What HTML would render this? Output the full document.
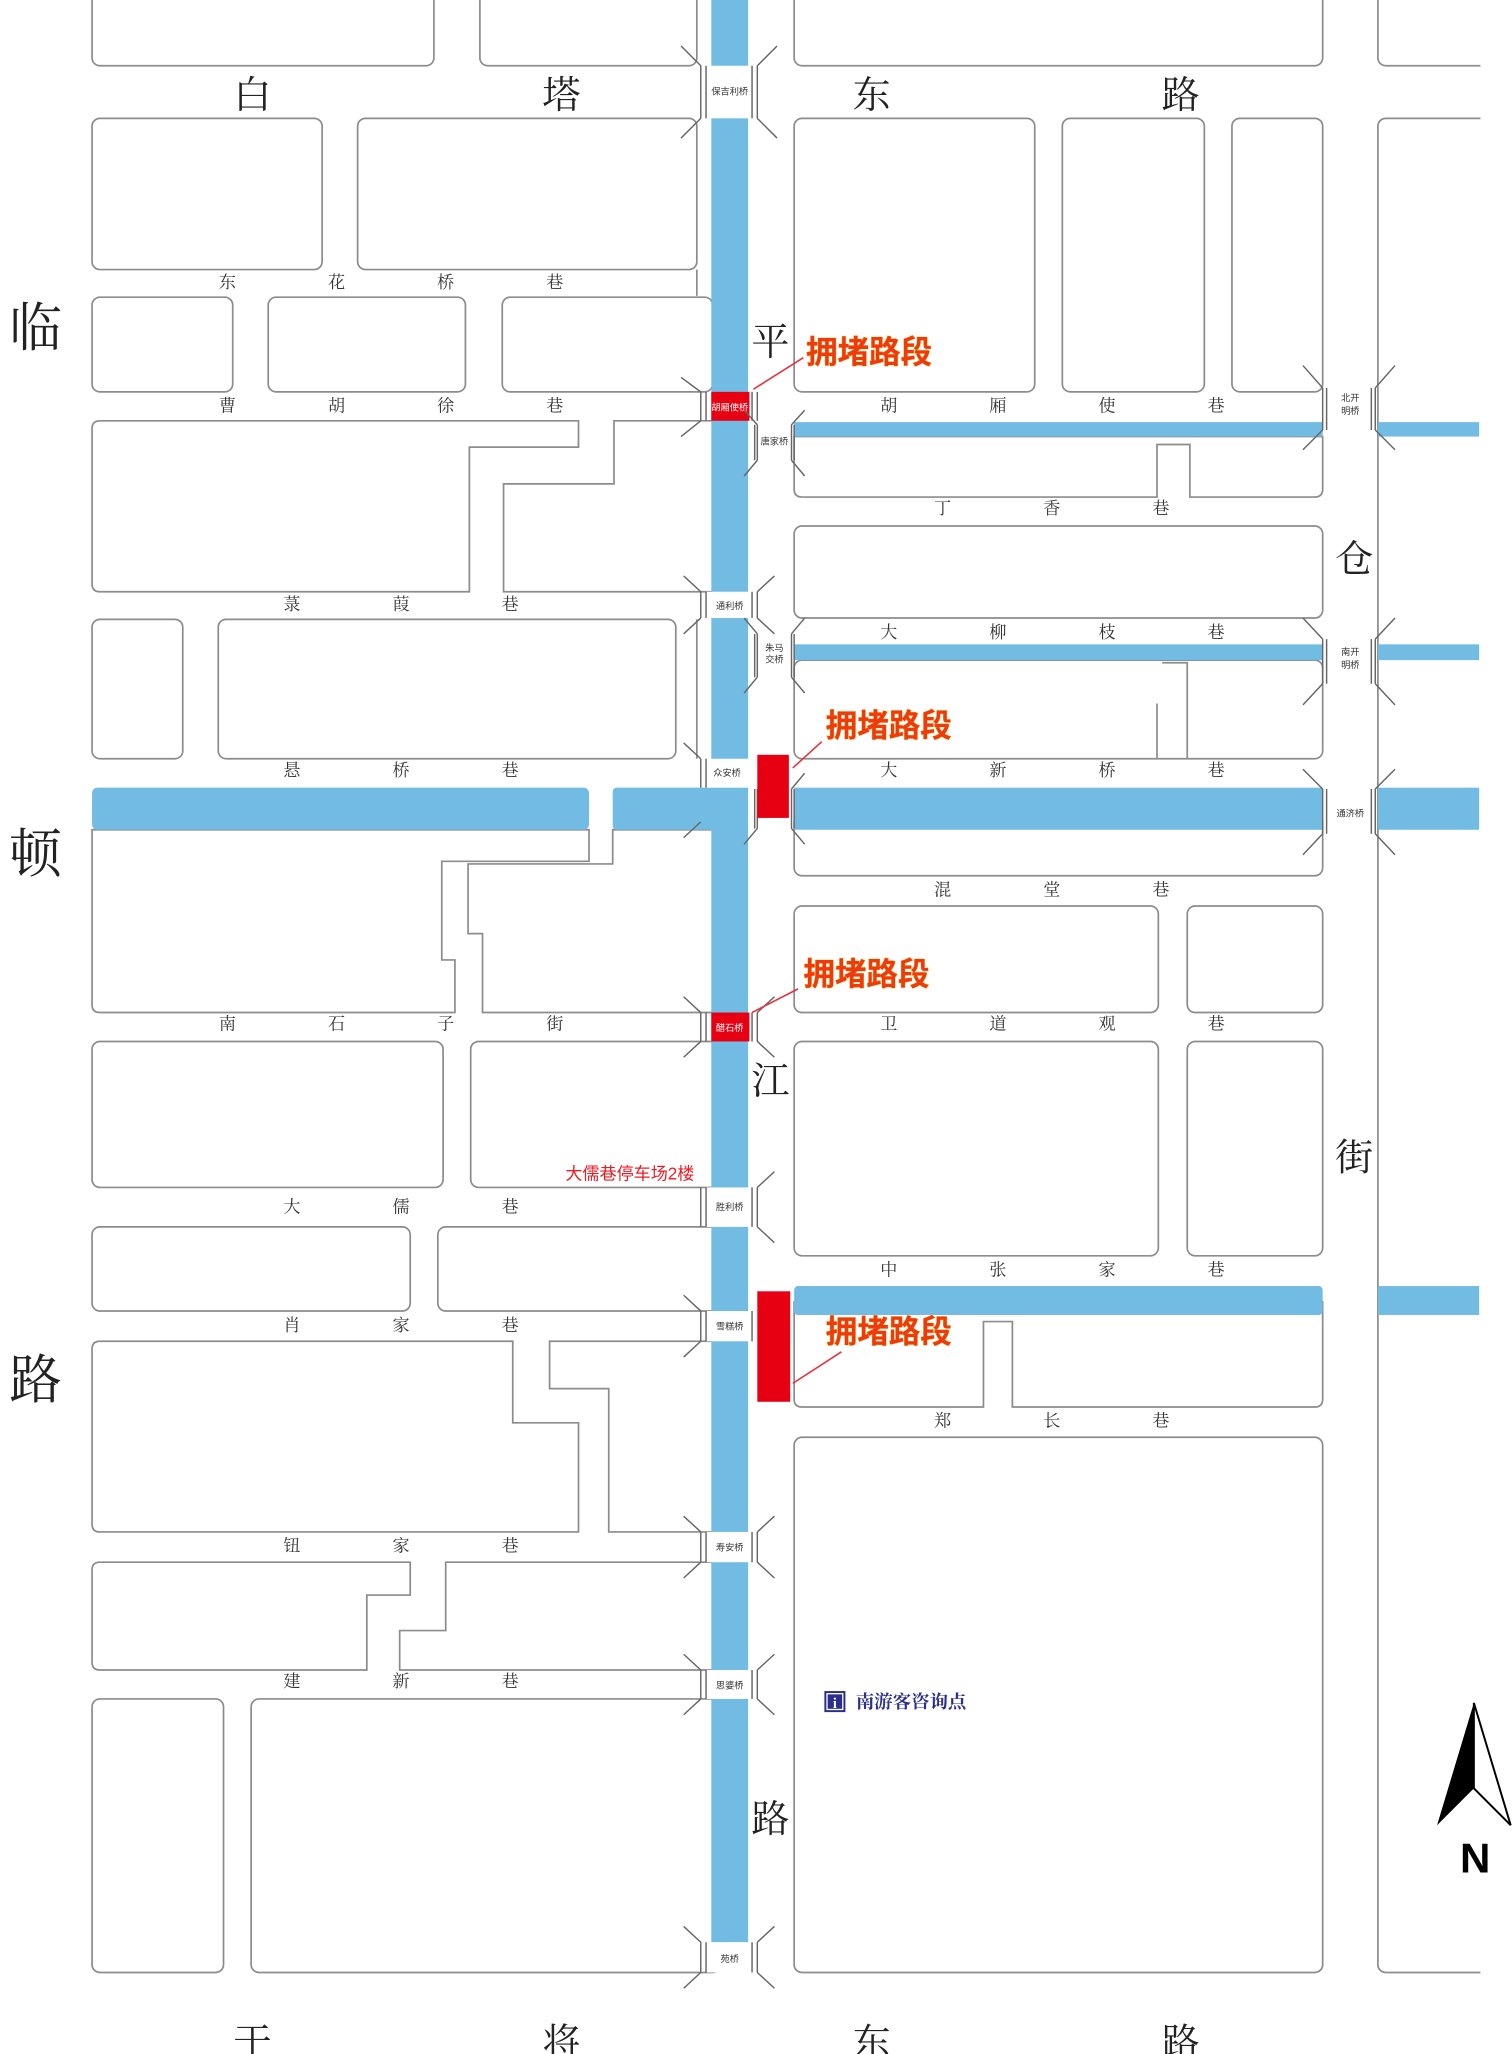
<!DOCTYPE html>
<html><head><meta charset="utf-8"><style>
html,body{margin:0;padding:0;background:#fff}
svg{display:block}
text{font-family:"Liberation Serif","Noto Serif CJK SC","Noto Sans CJK SC",serif}
.b{fill:#fff;stroke:#8c8c8c;stroke-width:1.3}
.l{fill:none;stroke:#8c8c8c;stroke-width:1.3}
.c{fill:#72bce4}
.br{fill:none;stroke:#666;stroke-width:1.1}
.big{font-size:29px;fill:#222;text-anchor:middle}
.hg{font-size:40px;fill:#222;text-anchor:middle}
.ln{font-size:13px;fill:#333;text-anchor:middle}
.bt{font-size:7px;fill:#333;text-anchor:middle;font-family:"Liberation Sans","Noto Sans CJK SC",sans-serif}
.jam{font-size:24px;font-weight:bold;fill:#ee3a0c;stroke:#f6d35a;stroke-width:0.6;paint-order:stroke;font-family:"Liberation Sans","Noto Sans CJK SC",sans-serif}
</style></head><body>
<svg width="1512" height="2054" viewBox="0 0 1150 1562" preserveAspectRatio="none" xmlns="http://www.w3.org/2000/svg">
<rect class="b" x="70" y="-10" width="260" height="60" rx="6"/>
<rect class="b" x="365" y="-10" width="165" height="60" rx="6"/>
<rect class="b" x="604" y="-10" width="402" height="60" rx="6"/>
<rect class="b" x="1048" y="-10" width="120" height="60" rx="6"/>
<rect class="b" x="70" y="90" width="175" height="115" rx="6"/>
<rect class="b" x="272" y="90" width="258" height="115" rx="6"/>
<path class="l" d="M530,205 V225"/>
<rect class="b" x="604" y="90" width="183" height="208" rx="6"/>
<rect class="b" x="808" y="90" width="108" height="208" rx="6"/>
<rect class="b" x="937" y="90" width="69" height="208" rx="6"/>
<rect class="b" x="1048" y="90" width="120" height="1410" rx="6"/>
<rect class="b" x="70" y="226" width="107" height="72" rx="6"/>
<rect class="b" x="204" y="226" width="150" height="72" rx="6"/>
<rect class="b" x="382" y="226" width="160" height="72" rx="6"/>
<path class="b" d="M76,320 H440 V340 H357 V450 H76 Q70,450 70,444 V326 Q70,320 76,320 Z"/>
<path class="b" d="M467,320 H545 V450 H383 V368 H467 Z"/>
<path class="b" d="M604,332 H1006 V372 Q1006,378 1000,378 H905 V338 H880 V378 H610 Q604,378 604,372 Z"/>
<rect class="b" x="604" y="400" width="402" height="70" rx="6"/>
<rect class="b" x="604" y="502" width="402" height="75" rx="6"/>
<path class="l" d="M880,535 V577 M884,504 H903 V577"/>
<rect class="b" x="70" y="471" width="69" height="106" rx="6"/>
<rect class="b" x="166" y="471" width="348" height="106" rx="6"/>
<path class="l" d="M530,471 V577"/>
<path class="b" d="M70,631 H448 V655 H336 V730 H346 V770 H76 Q70,770 70,764 Z"/>
<path class="b" d="M466,631 H545 V770 H367 V710 H356 V657 H466 Z"/>
<rect class="b" x="604" y="620" width="402" height="46" rx="6"/>
<rect class="b" x="604" y="689" width="277" height="81" rx="6"/>
<rect class="b" x="903" y="689" width="103" height="81" rx="6"/>
<rect class="b" x="70" y="792" width="267" height="111" rx="6"/>
<rect class="b" x="358" y="792" width="190" height="111" rx="6"/>
<rect class="b" x="604" y="792" width="277" height="163" rx="6"/>
<rect class="b" x="903" y="792" width="103" height="163" rx="6"/>
<rect class="b" x="70" y="933" width="242" height="64" rx="6"/>
<rect class="b" x="333" y="933" width="215" height="64" rx="6"/>
<path class="b" d="M604,990 H1006 V1064 Q1006,1070 1000,1070 H770 V1005 H748 V1070 H610 Q604,1070 604,1064 Z"/>
<path class="b" d="M76,1020 H390 V1082 H440 V1165 H76 Q70,1165 70,1159 V1026 Q70,1020 76,1020 Z"/>
<path class="b" d="M418,1020 H548 V1165 H463 V1056 H418 Z"/>
<rect class="b" x="604" y="1093" width="402" height="407" rx="6"/>
<path class="b" d="M76,1188 H312 V1213 H279 V1270 H76 Q70,1270 70,1264 V1194 Q70,1188 76,1188 Z"/>
<path class="b" d="M339,1188 H548 V1270 H304 V1240 H339 Z"/>
<rect class="b" x="70" y="1292" width="100" height="208" rx="6"/>
<rect class="b" x="191" y="1292" width="357" height="208" rx="6"/>
<rect x="1126" y="0" width="30" height="1562" fill="#fff"/>
<rect class="c" x="541" y="0" width="28" height="1477"/>
<rect class="c" x="70" y="599" width="378" height="32" rx="4"/>
<rect class="c" x="466" y="599" width="80" height="32" rx="3"/>
<rect class="c" x="604" y="599" width="402" height="32"/>
<rect class="c" x="1048" y="599" width="77" height="32"/>
<rect class="c" x="604" y="321" width="402" height="11"/>
<rect class="c" x="1048" y="321" width="77" height="11"/>
<rect class="c" x="604" y="490" width="402" height="12"/>
<rect class="c" x="1048" y="490" width="77" height="12"/>
<rect class="c" x="604" y="978" width="402" height="22" rx="3"/>
<rect class="c" x="1048" y="978" width="77" height="22"/>
<g>
<rect x="537" y="50" width="35" height="40" fill="#fff"/>
<path class="br" d="M533,50V90M537,50V90M572,50V90M576,50V90M533,50L518,35M576,50L591,35M533,90L518,105M576,90L591,105"/>
<text class="bt" x="555" y="72">保吉利桥</text>
<rect x="541" y="298" width="29" height="22" fill="#e60012"/>
<path class="br" d="M533,298V320M537,298V320M572,298V320M576,298V320M533,298L518,287M533,320L518,332"/>
<text class="bt" x="555" y="312" style="fill:#fff">胡厢使桥</text>
<rect x="537" y="450" width="35" height="20" fill="#fff"/>
<path class="br" d="M533,450V470M537,450V470M572,450V470M576,450V470M533,450L520,438M576,450L589,438M533,470L520,482M576,470L589,482"/>
<text class="bt" x="555" y="463">通利桥</text>
<rect x="537" y="577" width="35" height="22" fill="#fff"/>
<path class="br" d="M533,577V599M537,577V599M533,577L520,565M533,625L520,637"/>
<text class="bt" x="553" y="590">众安桥</text>
<rect x="541" y="770" width="29" height="22" fill="#e60012"/>
<path class="br" d="M533,770V792M537,770V792M572,770V792M576,770V792M533,770L520,758M576,770L589,758M533,792L520,804M576,792L589,804"/>
<text class="bt" x="555" y="784" style="fill:#fff">醋石桥</text>
<rect x="537" y="903" width="35" height="30" fill="#fff"/>
<path class="br" d="M533,903V933M537,903V933M572,903V933M576,903V933M576,903L589,891M576,933L589,945"/>
<text class="bt" x="555" y="920">胜利桥</text>
<rect x="537" y="997" width="35" height="23" fill="#fff"/>
<path class="br" d="M533,997V1020M537,997V1020M572,997V1020M533,997L520,985M533,1020L520,1032"/>
<text class="bt" x="555" y="1011">雪糕桥</text>
<rect x="537" y="1165" width="35" height="23" fill="#fff"/>
<path class="br" d="M533,1165V1188M537,1165V1188M572,1165V1188M576,1165V1188M533,1165L520,1153M576,1165L589,1153M533,1188L520,1200M576,1188L589,1200"/>
<text class="bt" x="555" y="1179">寿安桥</text>
<rect x="537" y="1270" width="35" height="22" fill="#fff"/>
<path class="br" d="M533,1270V1292M537,1270V1292M572,1270V1292M576,1270V1292M533,1270L520,1258M576,1270L589,1258M533,1292L520,1304M576,1292L589,1304"/>
<text class="bt" x="555" y="1284">思婆桥</text>
<rect x="537" y="1477" width="35" height="23" fill="#fff"/>
<path class="br" d="M533,1477V1500M537,1477V1500M572,1477V1500M576,1477V1500M533,1477L520,1465M576,1477L589,1465M533,1500L520,1512M576,1500L589,1512"/>
<text class="bt" x="555" y="1492">苑桥</text>
<path class="br" d="M574,323V350M576,323V350M602,323V350M604,323V350M576,350L566,362M576,323L566,312M602,323L612,312M602,350L612,362"/>
<text class="bt" x="589" y="338">唐家桥</text>
<path class="br" d="M574,482V515M576,482V515M602,482V515M604,482V515M576,515L566,527M576,482L566,470M602,482L612,470M602,515L612,527"/>
<text class="bt" x="589" y="495">朱马</text><text class="bt" x="589" y="504">交桥</text>
<path class="br" d="M574,600V630M576,600V630M602,600V630M604,600V630M576,630L566,642M602,630L612,642M602,600L612,588"/>
<rect x="1010" y="300" width="33" height="50" fill="#fff"/>
<path class="br" d="M1006,295V327M1009,295V327M1043,295V327M1046,295V327M1006,295L991,278M1046,295L1061,278M1006,327L991,342M1046,327L1061,342"/>
<text class="bt" x="1027" y="305">北开</text><text class="bt" x="1027" y="315">明桥</text>
<rect x="1010" y="480" width="33" height="40" fill="#fff"/>
<path class="br" d="M1006,486V520M1009,486V520M1043,486V520M1046,486V520M1006,486L991,470M1046,486L1061,470M1006,520L991,536M1046,520L1061,536"/>
<text class="bt" x="1027" y="498">南开</text><text class="bt" x="1027" y="508">明桥</text>
<rect x="1009" y="599" width="35" height="32" fill="#fff"/>
<path class="br" d="M1006,600V634M1009,600V634M1043,600V634M1046,600V634M1006,600L991,585M1046,600L1061,585M1006,634L991,650M1046,634L1061,650"/>
<text class="bt" x="1027" y="621">通济桥</text>
<rect x="576" y="574" width="24" height="48" fill="#e60012"/>
<rect x="576" y="982" width="25" height="84" fill="#e60012"/>
<text class="jam" x="613" y="276">拥堵路段</text>
<path d="M611,272 L573,296" stroke="#e8303a" stroke-width="1.2"/>
<text class="jam" x="628" y="560">拥堵路段</text>
<path d="M625,564 L603,584" stroke="#e8303a" stroke-width="1.2"/>
<text class="jam" x="611" y="749">拥堵路段</text>
<path d="M607,752 L572,770" stroke="#e8303a" stroke-width="1.2"/>
<text class="jam" x="628" y="1021">拥堵路段</text>
<path d="M640,1028 L603,1052" stroke="#e8303a" stroke-width="1.2"/>
<text x="430" y="897" style="font-size:13px;fill:#ea1c24;font-family:'Liberation Sans','Noto Sans CJK SC',sans-serif">大儒巷停车场2楼</text>
<text class="big" x="192" y="82">白</text><text class="big" x="427" y="82">塔</text><text class="big" x="663" y="82">东</text><text class="big" x="898" y="82">路</text>
<text class="big" x="192" y="1563">干</text><text class="big" x="427" y="1563">将</text><text class="big" x="663" y="1563">东</text><text class="big" x="898" y="1563">路</text>
<text class="hg" x="27" y="263">临</text><text class="hg" x="27" y="663">顿</text><text class="hg" x="27" y="1063">路</text>
<text class="big" x="586" y="270">平</text><text class="big" x="586" y="832">江</text><text class="big" x="586" y="1393">路</text>
<text class="big" x="1030" y="435">仓</text><text class="big" x="1030" y="890">街</text>
<g class="ln">
<text x="173" y="219">东</text><text x="256" y="219">花</text><text x="339" y="219">桥</text><text x="422" y="219">巷</text>
<text x="173" y="313">曹</text><text x="256" y="313">胡</text><text x="339" y="313">徐</text><text x="422" y="313">巷</text>
<text x="676" y="313">胡</text><text x="759" y="313">厢</text><text x="842" y="313">使</text><text x="925" y="313">巷</text>
<text x="717" y="391">丁</text><text x="800" y="391">香</text><text x="883" y="391">巷</text>
<text x="222" y="464">菉</text><text x="305" y="464">葭</text><text x="388" y="464">巷</text>
<text x="676" y="485">大</text><text x="759" y="485">柳</text><text x="842" y="485">枝</text><text x="925" y="485">巷</text>
<text x="222" y="590">悬</text><text x="305" y="590">桥</text><text x="388" y="590">巷</text>
<text x="676" y="590">大</text><text x="759" y="590">新</text><text x="842" y="590">桥</text><text x="925" y="590">巷</text>
<text x="717" y="681">混</text><text x="800" y="681">堂</text><text x="883" y="681">巷</text>
<text x="173" y="783">南</text><text x="256" y="783">石</text><text x="339" y="783">子</text><text x="422" y="783">街</text>
<text x="676" y="783">卫</text><text x="759" y="783">道</text><text x="842" y="783">观</text><text x="925" y="783">巷</text>
<text x="222" y="922">大</text><text x="305" y="922">儒</text><text x="388" y="922">巷</text>
<text x="676" y="970">中</text><text x="759" y="970">张</text><text x="842" y="970">家</text><text x="925" y="970">巷</text>
<text x="222" y="1012">肖</text><text x="305" y="1012">家</text><text x="388" y="1012">巷</text>
<text x="717" y="1085">郑</text><text x="800" y="1085">长</text><text x="883" y="1085">巷</text>
<text x="222" y="1180">钮</text><text x="305" y="1180">家</text><text x="388" y="1180">巷</text>
<text x="222" y="1283">建</text><text x="305" y="1283">新</text><text x="388" y="1283">巷</text>
</g>
<rect x="627" y="1286" width="16" height="16" fill="#2a2f8f"/>
<rect x="629" y="1288" width="12" height="12" fill="none" stroke="#fff" stroke-width="1"/>
<text x="635" y="1299" style="font-size:11px;fill:#fff;text-anchor:middle;font-weight:bold">i</text>
<text x="651" y="1299" style="font-size:14px;fill:#2a2f8f;font-weight:bold">南游客咨询点</text>
<path d="M1121,1295 L1093,1388 L1121,1360 Z" fill="#000"/>
<path d="M1121,1295 L1149,1388 L1121,1360 Z" fill="#fff" stroke="#000" stroke-width="1.5"/>
<text x="1122" y="1424" style="font-size:32px;font-weight:bold;fill:#000;text-anchor:middle;font-family:'Liberation Sans',sans-serif">N</text>
</g>
</svg>
</body></html>
